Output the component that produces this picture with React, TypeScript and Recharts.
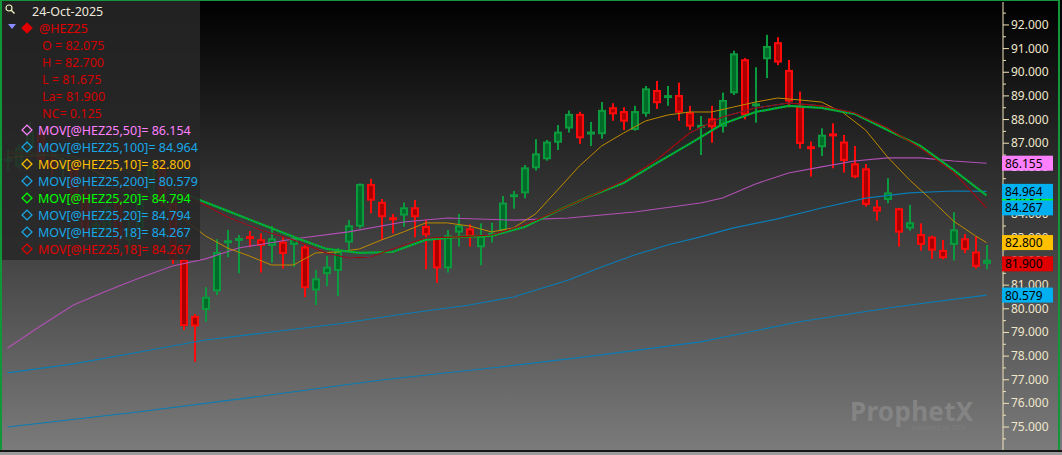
import React from "react";
import { ComposedChart, Bar, Line, XAxis, YAxis } from "recharts";

// daily bars of @HEZ25, oldest first
const opens = [
  86.25, 86.0, 86.8, 87.45, 86.3, 85.9, 86.0, 84.9, 83.3, 83.3,
  84.6, 82.9, 83.4, 84.9, 86.0, 84.47, 82.1, 79.7, 79.95, 80.74,
  82.8, 82.88, 83.08, 82.94, 82.66, 82.84, 82.7, 82.63, 80.77, 81.47,
  81.6, 82.8, 83.47, 85.28, 84.52, 83.85, 83.94, 84.29, 83.5, 83.02,
  81.71, 83.22, 83.4, 82.6, 83.08, 83.3, 84.71, 84.88, 85.94, 86.32,
  87.02, 87.62, 88.24, 87.38, 87.38, 88.52, 88.36, 87.56, 88.24, 89.25,
  88.9, 89.04, 88.31, 87.67, 88.05, 87.7, 89.11, 90.55, 88.55, 90.55,
  91.27, 90.1, 88.58, 86.88, 86.83, 87.39, 87.07, 86.15, 85.94, 84.32,
  84.6, 84.25, 83.39, 83.16, 83.05, 82.49, 82.7, 82.98, 82.42, 82.075
];
const highs = [
  86.72, 86.95, 87.9, 87.6, 86.6, 86.4, 86.2, 85.2, 84.0, 84.6,
  84.8, 83.7, 85.0, 86.2, 86.3, 84.7, 82.3, 79.78, 80.91, 82.94,
  83.33, 83.12, 83.29, 83.19, 83.5, 83.08, 83.05, 82.7, 81.64, 82.23,
  82.56, 83.75, 85.3, 85.49, 84.64, 84.01, 84.49, 84.6, 83.78, 83.02,
  83.33, 84.01, 83.57, 83.61, 83.64, 84.77, 84.98, 86.08, 87.17, 87.14,
  87.77, 88.38, 88.33, 87.9, 88.74, 88.69, 88.52, 88.58, 89.42, 89.63,
  89.42, 89.56, 88.58, 88.15, 88.58, 89.14, 90.91, 90.6, 90.21, 91.58,
  91.48, 90.52, 89.18, 87.07, 87.63, 87.84, 87.35, 86.88, 86.12, 84.6,
  85.52, 84.25, 84.39, 83.61, 83.09, 82.91, 84.08, 83.16, 83.05, 82.7
];
const lows = [
  85.85, 85.9, 86.6, 86.1, 85.6, 85.5, 84.4, 83.0, 83.0, 83.1,
  82.6, 82.5, 83.2, 84.6, 84.3, 81.9, 79.1, 77.76, 79.45, 80.58,
  82.18, 81.5, 82.6, 81.53, 81.95, 81.7, 81.78, 80.49, 80.16, 80.96,
  80.54, 82.49, 83.4, 84.04, 82.91, 83.19, 83.47, 83.02, 81.67, 81.1,
  81.53, 82.63, 82.63, 81.84, 82.8, 83.19, 84.23, 84.67, 85.84, 86.26,
  86.71, 87.45, 86.97, 86.88, 87.19, 87.95, 87.56, 87.53, 88.12, 88.45,
  88.58, 87.95, 87.56, 86.5, 87.02, 87.45, 89.04, 88.01, 87.87, 89.75,
  90.3, 88.62, 86.77, 85.59, 86.46, 85.94, 85.76, 85.52, 84.32, 83.73,
  84.46, 82.63, 83.3, 82.46, 82.11, 82.09, 82.04, 82.35, 81.7, 81.675
];
const closes = [
  86.32, 86.8, 87.5, 86.3, 85.95, 86.1, 84.6, 83.3, 83.6, 84.3,
  82.9, 83.4, 84.8, 86.0, 84.6, 82.06, 79.27, 79.25, 80.51, 82.4,
  82.87, 82.98, 82.94, 82.66, 82.98, 82.32, 82.98, 80.87, 81.29, 81.78,
  82.44, 83.53, 85.28, 84.57, 83.87, 83.76, 84.29, 83.87, 83.11, 81.71,
  83.11, 83.53, 83.05, 83.08, 83.22, 84.49, 84.85, 85.98, 86.57, 87.07,
  87.49, 88.24, 87.21, 87.48, 88.41, 88.22, 87.91, 88.36, 89.32, 88.69,
  89.04, 88.29, 87.7, 87.76, 87.67, 88.83, 90.8, 88.18, 88.69, 91.11,
  90.41, 88.76, 86.97, 86.74, 87.36, 87.31, 86.25, 85.56, 84.39, 84.11,
  84.92, 83.22, 83.66, 82.7, 82.46, 82.14, 83.36, 82.49, 81.775, 81.9
];

// moving averages as [bar index, value]
const ma10: [number, number][] = [
  [0, 86.4], [4, 86.5], [8, 85.8], [12, 84.9], [14, 84.5], [16, 83.8], [18, 83.08], [20, 82.57],
  [22, 82.23], [24, 81.85], [26, 81.85], [28, 82.36], [30, 82.4], [32, 82.53], [34, 82.91],
  [36, 83.25], [38, 83.63], [40, 83.63], [42, 83.5], [44, 83.25], [46, 83.42], [48, 84.01],
  [50, 85.02], [52, 86.04], [54, 86.88], [56, 87.43], [58, 87.94], [60, 88.19], [62, 88.32],
  [64, 88.32], [66, 88.53], [68, 88.74], [70, 88.91], [72, 88.83], [74, 88.74], [76, 88.28],
  [78, 87.56], [80, 86.42], [82, 85.45], [84, 84.6], [86, 83.71], [88, 83.08], [89, 82.8]
];
const ma18: [number, number][] = [
  [0, 86.6], [5, 86.5], [10, 86.0], [14, 85.3], [17, 84.62], [20, 83.88], [23, 83.33], [26, 82.91],
  [29, 82.36], [31, 82.15], [33, 82.19], [35, 82.53], [38, 82.99], [41, 83.04], [44, 83.12],
  [47, 83.54], [50, 84.14], [53, 84.77], [56, 85.4], [59, 86.29], [62, 87.43], [65, 88.11],
  [68, 88.49], [71, 88.7], [74, 88.58], [77, 88.28], [80, 87.64], [83, 86.8], [86, 85.78], [89, 84.267]
];
const ma20: [number, number][] = [
  [0, 86.6], [5, 86.5], [10, 86.0], [14, 85.3], [17, 84.68], [20, 84.14], [23, 83.59], [26, 83.04],
  [29, 82.53], [32, 82.36], [35, 82.4], [38, 82.91], [41, 83.04], [44, 83.08], [47, 83.46],
  [50, 84.14], [53, 84.77], [56, 85.32], [59, 86.16], [62, 86.97], [65, 87.81], [68, 88.32],
  [71, 88.58], [74, 88.49], [77, 88.24], [80, 87.56], [83, 86.88], [86, 85.87], [89, 84.794]
];
const ma50: [number, number][] = [
  [0, 78.34], [3, 79.27], [6, 80.16], [9, 80.75], [12, 81.3], [15, 81.81], [18, 82.11], [21, 82.57],
  [26, 82.95], [31, 83.25], [36, 83.67], [40, 83.84], [46, 83.75], [51, 83.84], [57, 84.09],
  [63, 84.47], [65, 84.68], [68, 85.28], [71, 85.74], [74, 86.0], [77, 86.25], [80, 86.38],
  [83, 86.38], [86, 86.25], [89, 86.154]
];
const ma100: [number, number][] = [
  [0, 77.29], [6, 77.67], [12, 78.17], [18, 78.68], [24, 79.02], [30, 79.36], [36, 79.78],
  [42, 80.16], [46, 80.5], [51, 81.22], [54, 81.77], [57, 82.27], [60, 82.7], [63, 83.04],
  [66, 83.42], [70, 83.8], [74, 84.26], [78, 84.68], [82, 84.9], [86, 84.98], [89, 84.964]
];
const ma200: [number, number][] = [
  [0, 75.0], [12, 75.65], [23, 76.3], [34, 76.99], [45, 77.55], [54, 78.05], [63, 78.6],
  [72, 79.45], [81, 80.1], [89, 80.579]
];

const majorTicks = [75, 76, 77, 78, 79, 80, 81, 82, 83, 84, 85, 86, 87, 88, 89, 90, 91, 92];
const minorTicks = [74.5, 75.5, 76.5, 77.5, 78.5, 79.5, 80.5, 81.5, 82.5, 83.5, 84.5, 85.5, 86.5, 87.5, 88.5, 89.5, 90.5, 91.5, 92.5];

// last-value tags on the price axis, in drawing order
const tagValues = [86.155, 84.794, 84.964, 84.267, 82.8, 81.9, 80.579];
const tagColors = ["#ff80ff", "#00ff00", "#00b0f0", "#00b0f0", "#ffc000", "#e00000", "#00b0f0"];

const legendRows = [
  { text: "MOV[@HEZ25,50]= 86.154", color: "#ff80ff" },
  { text: "MOV[@HEZ25,100]= 84.964", color: "#18a8e8" },
  { text: "MOV[@HEZ25,10]= 82.800", color: "#ffc000" },
  { text: "MOV[@HEZ25,200]= 80.579", color: "#18a8e8" },
  { text: "MOV[@HEZ25,20]= 84.794", color: "#00ff00" },
  { text: "MOV[@HEZ25,20]= 84.794", color: "#18a8e8" },
  { text: "MOV[@HEZ25,18]= 84.267", color: "#18a8e8" },
  { text: "MOV[@HEZ25,18]= 84.267", color: "#e00000" }
];
const quoteRows = ["O = 82.075", "H = 82.700", "L = 81.675", "La= 81.900", "NC= 0.125"];

const rows: any[] = opens.map((o, i) => ({
  i,
  open: o,
  high: highs[i],
  low: lows[i],
  close: closes[i],
  up: i === 0 || closes[i] >= closes[i - 1]
}));
rows.push({ i: opens.length });
const fill = (key: string, pts: [number, number][]) => pts.forEach(([i, v]) => { rows[i][key] = v; });
fill("ma10", ma10);
fill("ma18", ma18);
fill("ma20", ma20);
fill("ma50", ma50);
fill("ma100", ma100);
fill("ma200", ma200);

const FONT = "'Noto Sans', 'Open Sans', sans-serif";
const DOMAIN: [number, number] = [74.03, 92.97];

function Candle(props: any) {
  const { x, y, width, height, payload } = props;
  if (!payload || payload.open == null) return null;
  const { open, high, low, close, up } = payload;
  const ppu = high > low ? height / (high - low) : 0;
  const cx = Math.round(x + width / 2);
  const yo = y + (high - open) * ppu;
  const yc = y + (high - close) * ppu;
  const top = Math.min(yo, yc);
  const bot = Math.max(yo, yc);
  const edge = up ? "#0b9a3e" : "#ff0a0a";
  const inner = up ? "#006b28" : "#a80000";
  return (
    <g>
      <rect x={cx - 1} y={y} width={2} height={Math.max(height, 1)} fill={edge} />
      {bot - top < 4 ? (
        <rect x={cx - 4} y={(top + bot) / 2 - 1.5} width={8} height={3} fill={edge} />
      ) : (
        <rect x={cx - 3} y={top + 1} width={6} height={bot - top - 2} fill={inner} stroke={edge} strokeWidth={2} />
      )}
    </g>
  );
}

function PriceTick(props: any) {
  const { x, y, payload } = props;
  const major = Number.isInteger(payload.value);
  return (
    <g>
      <line x1={x} x2={x + (major ? 6 : 3)} y1={y} y2={y} stroke="#f2e4b8" strokeWidth={1} />
      {major && (
        <text x={x + 8} y={y + 4} fontSize={12} fontFamily={FONT} fill="#efe6cc">
          {payload.value.toFixed(3)}
        </text>
      )}
    </g>
  );
}

// drawn by a thin second axis at the far right, so it sits above the price labels
function TagTick(props: any) {
  const { x, y, payload } = props;
  const k = tagValues.indexOf(payload.value);
  if (k < 0) return null;
  const x0 = x - 59;
  return (
    <g>
      <rect x={x0} y={y - 7.5} width={51} height={15} fill={tagColors[k]} />
      <text x={x0 + 3} y={y + 4.5} fontSize={12} fontFamily={FONT} fill="#000">
        {payload.value.toFixed(3)}
      </text>
    </g>
  );
}

function Diamond({ color, filled }: { color: string; filled?: boolean }) {
  return (
    <svg width={12} height={12} style={{ position: "absolute", left: 21, top: 2 }}>
      <rect x={2.5} y={2.5} width={7} height={7} transform="rotate(45 6 6)"
        fill={filled ? color : "none"} stroke={color} strokeWidth={1.3} />
    </svg>
  );
}

export default function App() {
  return (
    <div style={{
      position: "absolute", left: 0, top: 0, width: 1062, height: 455, overflow: "hidden",
      background: "linear-gradient(#000000 0%, #3c3c3c 50%, #7c7c7c 100%)", fontFamily: FONT
    }}>
      <ComposedChart width={1062} height={450} data={rows} margin={{ top: 2, right: 0, bottom: 0, left: 2 }}>
        <XAxis dataKey="i" hide />
        <YAxis
          yAxisId="p"
          orientation="right"
          width={58}
          domain={DOMAIN}
          allowDataOverflow
          ticks={[...minorTicks, ...majorTicks]}
          interval={0}
          tickSize={0}
          tickMargin={0}
          tickLine={false}
          axisLine={{ stroke: "#f2e4b8" }}
          tick={<PriceTick />}
        />
        <YAxis
          yAxisId="tags"
          orientation="right"
          width={1}
          domain={DOMAIN}
          allowDataOverflow
          type="number"
          ticks={tagValues}
          interval={0}
          tickSize={0}
          tickMargin={0}
          tickLine={false}
          axisLine={false}
          tick={<TagTick />}
        />
        <Line yAxisId="tags" dataKey="ma50" stroke="none" dot={false} connectNulls isAnimationActive={false} />
        <Line yAxisId="p" dataKey="ma200" stroke="#0a7cb4" strokeWidth={1.1} dot={false} connectNulls isAnimationActive={false} />
        <Line yAxisId="p" dataKey="ma100" stroke="#0a7cb4" strokeWidth={1.1} dot={false} connectNulls isAnimationActive={false} />
        <Line yAxisId="p" dataKey="ma50" stroke="#b050b4" strokeWidth={1.1} dot={false} connectNulls isAnimationActive={false} />
        <Line yAxisId="p" dataKey="ma10" stroke="#c08a00" strokeWidth={1} dot={false} connectNulls isAnimationActive={false} />
        <Line yAxisId="p" dataKey="ma18" stroke="#0a7cb4" strokeWidth={1} dot={false} connectNulls isAnimationActive={false} />
        <Line yAxisId="p" dataKey="ma20" stroke="#00b418" strokeWidth={2.2} dot={false} connectNulls isAnimationActive={false} />
        <Line yAxisId="p" dataKey="ma20" stroke="#0a84c0" strokeWidth={1.2} strokeDasharray="1 2" dot={false} connectNulls isAnimationActive={false} />
        <Line yAxisId="p" dataKey="ma18" stroke="#a80000" strokeWidth={1.1} dot={false} connectNulls isAnimationActive={false} />
        <Bar
          yAxisId="p"
          dataKey={(d: any) => (d.open == null ? null : [d.low, d.high])}
          barSize={9}
          shape={<Candle />}
          isAnimationActive={false}
        />
      </ComposedChart>

      {/* info panel */}
      <div style={{
        position: "absolute", left: 0, top: 0, width: 200, height: 260,
        background: "rgba(40,40,40,0.86)", fontSize: 12.5, lineHeight: "17px"
      }}>
        <svg width={12} height={12} style={{ position: "absolute", left: 4, top: 3 }}>
          <circle cx={5} cy={5} r={3} fill="none" stroke="#f0f0c0" strokeWidth={1.2} />
          <line x1={7.2} y1={7.2} x2={10.5} y2={10.5} stroke="#f0f0c0" strokeWidth={1.4} />
        </svg>
        <div style={{ position: "absolute", left: 32, top: 3, color: "#ece8dc" }}>24-Oct-2025</div>
        <svg width={10} height={8} style={{ position: "absolute", left: 8, top: 24 }}>
          <polygon points="0,0 8,0 4,5" fill="#8a8aff" />
        </svg>
        <div style={{ position: "absolute", left: 0, top: 20, width: 200, height: 17 }}>
          <Diamond color="#e00000" filled />
          <span style={{ position: "absolute", left: 39, color: "#e00000" }}>@HEZ25</span>
        </div>
        {quoteRows.map((t, k) => (
          <div key={t} style={{ position: "absolute", left: 42, top: 37 + k * 17, color: "#d40000" }}>{t}</div>
        ))}
        {legendRows.map((r, k) => (
          <div key={k} style={{ position: "absolute", left: 0, top: 122 + k * 17, width: 200, height: 17 }}>
            <Diamond color={r.color} />
            <span style={{ position: "absolute", left: 38, color: r.color, whiteSpace: "nowrap" }}>{r.text}</span>
          </div>
        ))}
      </div>

      {/* watermark */}
      <div style={{ position: "absolute", left: 850, top: 393, color: "#848484", fontSize: 26, fontWeight: 700, letterSpacing: 0.3 }}>
        ProphetX
      </div>
      <div style={{ position: "absolute", left: 912, top: 423, color: "#7e7e7e", fontSize: 7 }}>powered by DTN</div>

      {/* frame */}
      <div style={{
        position: "absolute", left: 0, top: 0, width: 1060, height: 451, boxSizing: "border-box",
        borderLeft: "2px solid #12963a", borderTop: "1px solid #12963a", borderRight: "2px solid #12963a"
      }} />
      <div style={{ position: "absolute", left: 0, top: 450, width: 1062, height: 5, background: "#9c9c9c", borderTop: "2px solid #151515" }} />
    </div>
  );
}
